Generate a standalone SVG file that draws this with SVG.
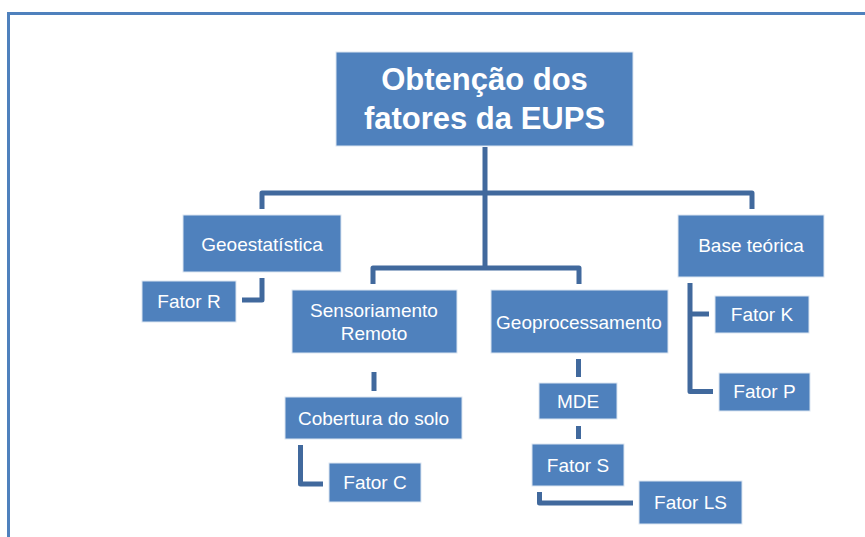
<svg xmlns="http://www.w3.org/2000/svg" width="865" height="537" viewBox="0 0 865 537">
<style>
.box{fill:#4F81BD;stroke:#dbe5f1;stroke-width:1}
.t{fill:#fff;font-family:"Liberation Sans",Arial,sans-serif;font-size:19px;text-anchor:middle}
.tt{fill:#fff;font-family:"Liberation Sans",Arial,sans-serif;font-size:31px;font-weight:bold;text-anchor:middle}
.c{fill:none;stroke:#41699D;stroke-width:5;stroke-linejoin:round}
</style>
<rect width="865" height="537" fill="#fff"/>
<path d="M8.5,537 V13.5 H865" fill="none" stroke="#4F81BD" stroke-width="3"/>
<g id="connectors">
<path class="c" d="M485,147 V193"/>
<path class="c" d="M262,209 V193 H752 V209"/>
<path class="c" d="M485,193 V268"/>
<path class="c" d="M373,284 V268 H579 V284"/>
<path class="c" d="M262,278 V300 H242"/>
<path class="c" d="M374,372 V391"/>
<path class="c" d="M300.5,445 V484 H323"/>
<path class="c" d="M578.5,359 V377"/>
<path class="c" d="M578.5,426 V439"/>
<path class="c" d="M539.5,492 V503 H633"/>
<path class="c" d="M690,283 V391.5 H713"/>
<path class="c" d="M690,314 H709"/>
</g>
<g id="n-top"><rect class="box" x="336" y="52" width="297" height="94"/><text class="tt" x="484.5" y="90">Obtenção dos</text><text class="tt" x="484.5" y="129">fatores da EUPS</text></g>
<g id="n-geoest"><rect class="box" x="183" y="215" width="158" height="57"/><text class="t" x="262" y="251">Geoestatística</text></g>
<g id="n-fatorR"><rect class="box" x="142" y="281" width="94" height="41"/><text class="t" x="189" y="308">Fator R</text></g>
<g id="n-sens"><rect class="box" x="292" y="290" width="165" height="63"/><text class="t" x="374" y="317">Sensoriamento</text><text class="t" x="374" y="340">Remoto</text></g>
<g id="n-geoproc"><rect class="box" x="491" y="290" width="177" height="63"/><text class="t" x="579" y="329">Geoprocessamento</text></g>
<g id="n-base"><rect class="box" x="678" y="215" width="146" height="62"/><text class="t" x="751" y="252">Base teórica</text></g>
<g id="n-fatorK"><rect class="box" x="715" y="296" width="94" height="37"/><text class="t" x="762" y="321">Fator K</text></g>
<g id="n-fatorP"><rect class="box" x="719" y="373" width="91" height="38"/><text class="t" x="764.5" y="398">Fator P</text></g>
<g id="n-cob"><rect class="box" x="285" y="397" width="177" height="42"/><text class="t" x="373.5" y="425">Cobertura do solo</text></g>
<g id="n-fatorC"><rect class="box" x="329" y="463" width="92" height="39"/><text class="t" x="375" y="489">Fator C</text></g>
<g id="n-mde"><rect class="box" x="539" y="383" width="78" height="36"/><text class="t" x="578" y="408">MDE</text></g>
<g id="n-fatorS"><rect class="box" x="532" y="444" width="92" height="42"/><text class="t" x="578" y="472">Fator S</text></g>
<g id="n-fatorLS"><rect class="box" x="639" y="481" width="103" height="43"/><text class="t" x="690.5" y="509">Fator LS</text></g>
</svg>
